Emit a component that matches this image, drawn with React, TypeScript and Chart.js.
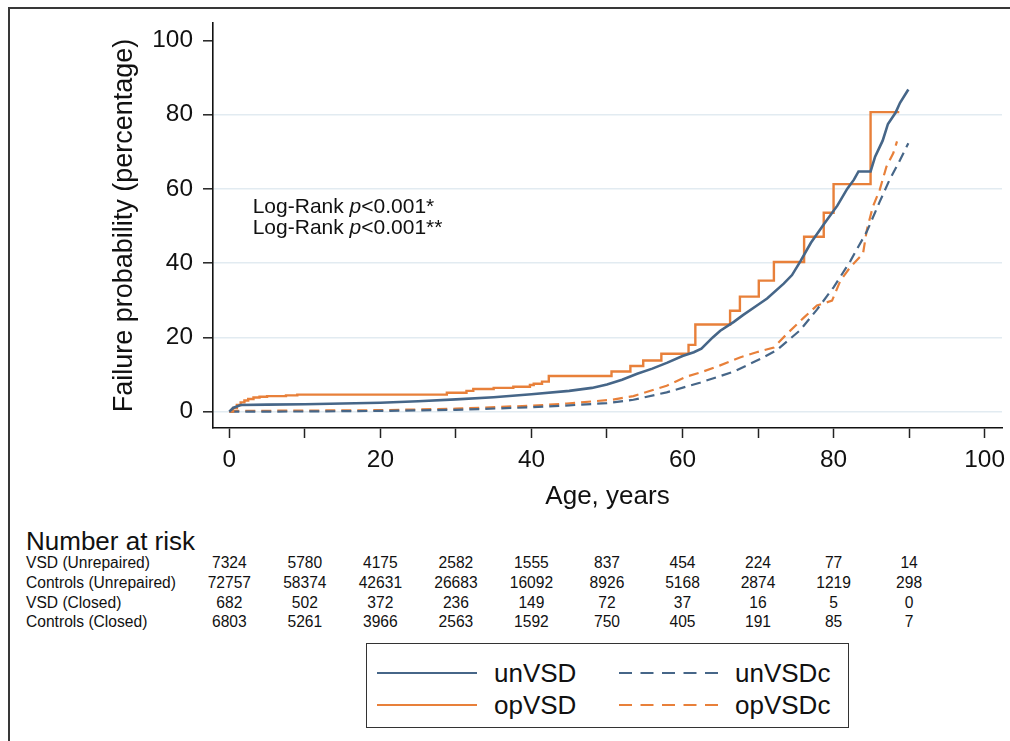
import React, { useEffect, useRef, useState } from 'react';
import { Chart, registerables } from 'chart.js';

Chart.register(...registerables);

// ---------- data ----------
const unVSDAges = [0, 0.5, 1.5, 5, 10, 15, 20, 25, 30, 35, 40, 45, 48, 50, 52, 54, 56, 58, 60, 61.5, 62.5, 64, 65, 66.8, 68, 70, 71.2, 73.4, 74.5, 75.6, 77, 78.9, 80.5, 81.8, 82.7, 83.3, 84.9, 85.5, 86.5, 87.2, 88.2, 88.8, 89.9];
const unVSDValues = [0, 1.0, 1.8, 1.9, 2.0, 2.2, 2.4, 2.8, 3.3, 3.9, 4.7, 5.6, 6.4, 7.3, 8.6, 10.2, 11.6, 13.2, 15.0, 16.0, 17.0, 20.0, 21.8, 24.2, 26.0, 28.8, 30.5, 34.5, 36.8, 40.5, 45.5, 51.0, 55.5, 60.0, 62.5, 64.7, 64.7, 68.7, 73.0, 77.5, 80.5, 83.2, 86.8];

const opVSDAges = [0, 0.5, 1, 1.5, 2, 2.5, 3.2, 4, 5, 7.5, 9, 28.8, 31.4, 32.3, 35, 37.6, 39.8, 40.3, 41.4, 42.3, 50.6, 53.1, 54.8, 57.2, 60.8, 61.7, 66.3, 67.6, 70.1, 72.1, 76.1, 78.7, 80, 84.9, 88.7];
const opVSDValues = [0, 1.0, 1.8, 2.5, 3.0, 3.4, 3.8, 4.0, 4.2, 4.4, 4.6, 5.1, 5.6, 6.1, 6.4, 6.7, 7.2, 7.5, 8.1, 9.6, 10.8, 12.3, 13.8, 15.6, 18.0, 23.5, 27.2, 31.0, 35.3, 40.3, 47.1, 53.6, 61.3, 80.7, 80.7];

const unVSDcAges = [0, 10, 20, 30, 36, 40, 45, 50, 53.5, 57.9, 62.3, 66.8, 70.3, 72.5, 75.6, 77.8, 80, 82.2, 84.4, 86.1, 87.4, 88.8, 89.9];
const unVSDcValues = [0, 0.05, 0.2, 0.5, 0.9, 1.2, 1.7, 2.3, 3.2, 5.2, 7.8, 10.8, 14.2, 16.6, 22.0, 27.5, 33.5, 40.5, 48.5, 56.5, 62.4, 67.8, 72.3];

const opVSDcAges = [0, 1, 10, 20, 30, 36, 40, 44.7, 50.6, 53.5, 57.9, 60.6, 62.3, 64.9, 67.6, 69.8, 72.1, 73.8, 76.1, 77.8, 79.8, 80.9, 82.2, 83.9, 84.4, 85.2, 86.1, 87, 87.9, 88.4];
const opVSDcValues = [0, 0.2, 0.3, 0.4, 0.8, 1.3, 1.6, 2.2, 3.2, 4.2, 7.0, 9.5, 10.5, 12.4, 14.6, 16.0, 17.3, 20.9, 25.4, 28.6, 29.9, 35.3, 38.9, 42.6, 48.9, 55.2, 59.7, 66.0, 69.6, 72.8];

const xTickValues = [0, 10, 20, 30, 40, 50, 60, 70, 80, 90, 100];
const yTickValues = [0, 20, 40, 60, 80, 100];

const riskTimes = [0, 10, 20, 30, 40, 50, 60, 70, 80, 90];
const riskLabels = ['VSD (Unrepaired)', 'Controls (Unrepaired)', 'VSD (Closed)', 'Controls (Closed)'];
const riskVSDUnrepaired = [7324, 5780, 4175, 2582, 1555, 837, 454, 224, 77, 14];
const riskControlsUnrepaired = [72757, 58374, 42631, 26683, 16092, 8926, 5168, 2874, 1219, 298];
const riskVSDClosed = [682, 502, 372, 236, 149, 72, 37, 16, 5, 0];
const riskControlsClosed = [6803, 5261, 3966, 2563, 1592, 750, 405, 191, 85, 7];

const seriesNames = ['unVSD', 'opVSD', 'unVSDc', 'opVSDc'];

// ---------- style ----------
const FONT = '"Liberation Sans", Arial, Helvetica, sans-serif';
const BLUE = '#466688';
const ORANGE = '#e8803a';
const GRID = '#e2ebf1';
const INK = '#111111';

const toPoints = (ages: number[], vals: number[]) => ages.map((a, i) => ({ x: a, y: vals[i] }));

const zeroPad = (s: any) => {
  s.paddingLeft = 0;
  s.paddingRight = 0;
  s.paddingTop = 0;
  s.paddingBottom = 0;
};

export default function App() {
  const canvasRef = useRef<HTMLCanvasElement | null>(null);
  const [riskX, setRiskX] = useState<number[]>(riskTimes.map((t) => 229.3 + 7.55 * t));

  useEffect(() => {
    if (!canvasRef.current) return;
    const chart = new Chart(canvasRef.current, {
      type: 'line',
      data: {
        datasets: [
          { label: seriesNames[0], data: toPoints(unVSDAges, unVSDValues), borderColor: BLUE, borderWidth: 2.6, pointRadius: 0, tension: 0, fill: false },
          { label: seriesNames[1], data: toPoints(opVSDAges, opVSDValues), borderColor: ORANGE, borderWidth: 2.4, pointRadius: 0, stepped: 'before', fill: false },
          { label: seriesNames[2], data: toPoints(unVSDcAges, unVSDcValues), borderColor: BLUE, borderWidth: 2.2, borderDash: [10, 6], pointRadius: 0, tension: 0, fill: false },
          { label: seriesNames[3], data: toPoints(opVSDcAges, opVSDcValues), borderColor: ORANGE, borderWidth: 2.2, borderDash: [10, 6], pointRadius: 0, tension: 0, fill: false },
        ],
      },
      options: {
        responsive: false,
        animation: false,
        layout: { padding: { top: 23, right: 8, left: 0, bottom: 0 } },
        plugins: { legend: { display: false }, tooltip: { enabled: false } },
        scales: {
          x: {
            type: 'linear',
            min: -2.16,
            max: 102.3,
            afterBuildTicks: (s: any) => { s.ticks = xTickValues.map((v) => ({ value: v })); },
            afterFit: (s: any) => { s.height = 92; zeroPad(s); },
            ticks: {
              autoSkip: false,
              maxRotation: 0,
              padding: 8,
              color: INK,
              font: { family: FONT, size: 24.4 },
              callback: (v: any) => (Number(v) % 20 === 0 ? String(v) : ''),
            },
            grid: { drawOnChartArea: false, drawTicks: true, tickLength: 10, tickColor: '#222', tickWidth: 1.5 },
            border: { display: true, color: INK, width: 1.6 },
            title: { display: true, text: 'Age, years', color: INK, font: { family: FONT, size: 26 }, padding: { top: 0, bottom: 7.4 } },
          },
          y: {
            type: 'linear',
            min: -4.4,
            max: 104.7,
            afterBuildTicks: (s: any) => { s.ticks = yTickValues.map((v) => ({ value: v })); },
            afterFit: (s: any) => { s.width = 213; zeroPad(s); },
            ticks: { autoSkip: false, padding: 10, color: INK, font: { family: FONT, size: 24.4 } },
            grid: {
              drawOnChartArea: true,
              drawTicks: true,
              tickLength: 10,
              tickColor: '#222',
              tickWidth: 1.5,
              lineWidth: 1.6,
              color: (ctx: any) => (ctx.tick && ctx.tick.value >= 100 ? 'rgba(0,0,0,0)' : GRID),
            },
            border: { display: true, color: INK, width: 1.6 },
            title: { display: true, text: 'Failure probability (percentage)', color: INK, font: { family: FONT, size: 27 }, padding: { top: 108.8, bottom: 0 } },
          },
        },
      },
    } as any);
    const xs = chart.scales.x;
    setRiskX(riskTimes.map((t) => xs.getPixelForValue(t)));
    return () => chart.destroy();
  }, []);

  const riskRows = [riskVSDUnrepaired, riskControlsUnrepaired, riskVSDClosed, riskControlsClosed];
  const rowCenters = [563.3, 583.3, 602.7, 621.7];
  const rowH = 20;

  const legendItem = (label: string, color: string, dashed: boolean, x: number, y: number, textX: number) => (
    <React.Fragment key={label}>
      <svg style={{ position: 'absolute', left: x, top: y - 5, width: 101, height: 10, overflow: 'visible' }}>
        <line x1={0} y1={5} x2={100} y2={5} stroke={color} strokeWidth={2.2} strokeDasharray={dashed ? '13 8.5' : undefined} />
      </svg>
      <div style={{ position: 'absolute', left: textX, top: y - 17, height: 34, lineHeight: '34px', fontSize: 26, fontFamily: FONT, color: INK, whiteSpace: 'nowrap' }}>{label}</div>
    </React.Fragment>
  );

  return (
    <div style={{ position: 'absolute', left: 0, top: 0, width: 1010, height: 741, overflow: 'hidden', background: '#fff', fontFamily: FONT }}>
      <div style={{ position: 'absolute', left: 8, top: 7, width: 1100, height: 800, borderLeft: '2px solid #383838', borderTop: '2px solid #383838' }} />
      <canvas ref={canvasRef} width={1010} height={520} style={{ position: 'absolute', left: 0, top: 0, width: 1010, height: 520, display: 'block' }} />

      <div style={{ position: 'absolute', left: 252.7, top: 195, fontSize: 21, lineHeight: '21px', color: INK, whiteSpace: 'nowrap' }}>
        <div style={{ height: 21 }}>Log-Rank <i>p</i>&lt;0.001*</div>
        <div style={{ height: 21 }}>Log-Rank <i>p</i>&lt;0.001**</div>
      </div>

      <div style={{ position: 'absolute', left: 26, top: 541 - 16, height: 32, lineHeight: '32px', fontSize: 26, color: INK, whiteSpace: 'nowrap' }}>Number at risk</div>
      {riskRows.map((row, r) => (
        <React.Fragment key={riskLabels[r]}>
          <div style={{ position: 'absolute', left: 26, top: rowCenters[r] - rowH / 2, height: rowH, lineHeight: rowH + 'px', fontSize: 15.6, color: INK, whiteSpace: 'nowrap' }}>{riskLabels[r]}</div>
          {row.map((n, i) => (
            <div key={i} style={{ position: 'absolute', left: riskX[i], top: rowCenters[r] - rowH / 2, height: rowH, lineHeight: rowH + 'px', fontSize: 15.6, color: INK, whiteSpace: 'nowrap', transform: 'translateX(-50%)' }}>{n}</div>
          ))}
        </React.Fragment>
      ))}

      <div style={{ position: 'absolute', left: 366, top: 643, width: 483, height: 85, boxSizing: 'border-box', border: '1.5px solid #333' }} />
      {legendItem(seriesNames[0], BLUE, false, 377, 673, 494)}
      {legendItem(seriesNames[1], ORANGE, false, 377, 705, 494)}
      {legendItem(seriesNames[2], BLUE, true, 619, 673, 735)}
      {legendItem(seriesNames[3], ORANGE, true, 619, 705, 735)}
    </div>
  );
}
